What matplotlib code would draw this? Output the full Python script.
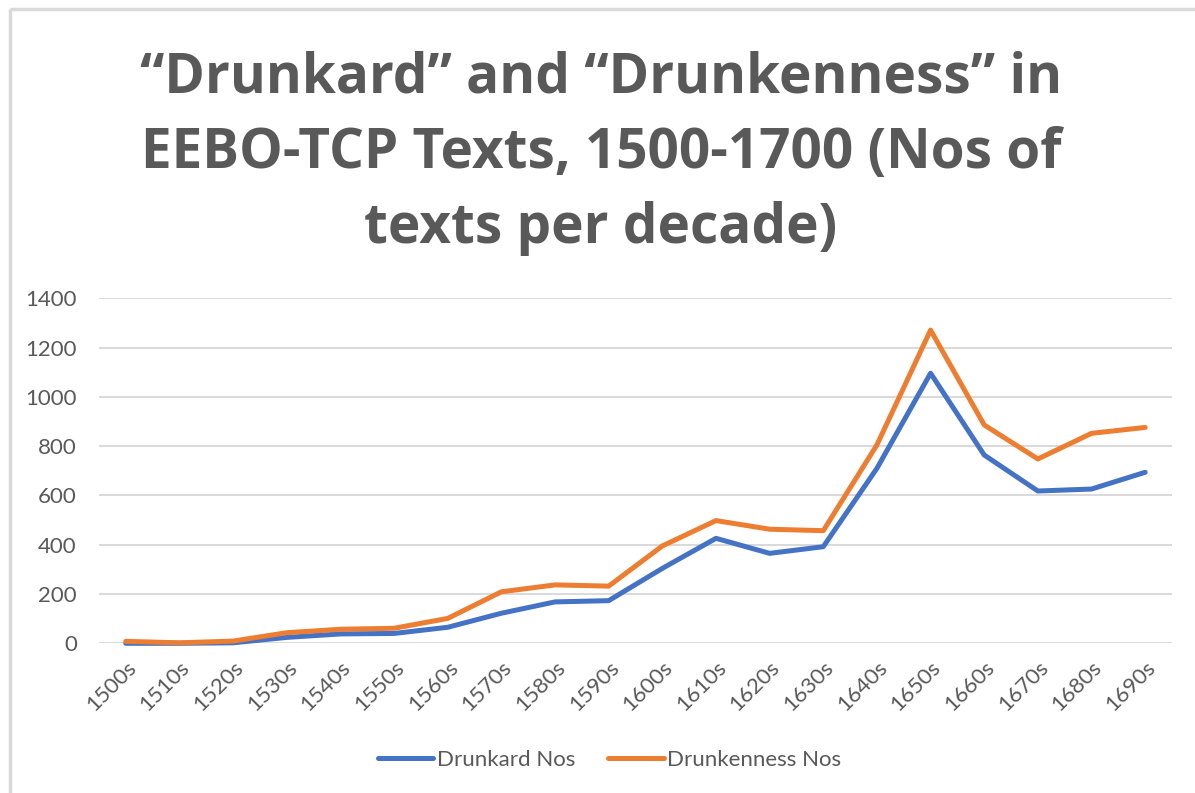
import matplotlib
matplotlib.use('Agg')
import matplotlib.pyplot as plt
from matplotlib.patches import Rectangle

# decades and counts
decades = ['1500s', '1510s', '1520s', '1530s', '1540s', '1550s', '1560s', '1570s',
           '1580s', '1590s', '1600s', '1610s', '1620s', '1630s', '1640s', '1650s',
           '1660s', '1670s', '1680s', '1690s']
drunkard = [0, 0, 2, 24, 38, 40, 65, 122, 168, 173, 304, 426, 365, 392, 710, 1096,
            764, 618, 626, 694]
drunkenness = [8, 2, 9, 43, 57, 61, 101, 209, 237, 232, 395, 498, 463, 457, 805, 1271,
               886, 748, 852, 876]
yticks = [0, 200, 400, 600, 800, 1000, 1200, 1400]

blue = '#4472C4'
orange = '#ED7D31'
grey = '#595959'

plt.rcParams['font.family'] = ['Lato', 'DejaVu Sans']

W, H = 1195, 793
fig = plt.figure(figsize=(W / 100, H / 100), dpi=100)

# frame of the chart area (only top and left edges are visible)
fig.patches.append(Rectangle((10 / W, 1 - 9 / H), 1.2, -1.2, transform=fig.transFigure,
                             fill=False, edgecolor='#D9D9D9', linewidth=2.5))
# cut-off letter from the page above
fig.text(45 / W, 1 + 8 / H, 'g', fontsize=16, color='black', va='baseline', ha='left')

ax = fig.add_axes([99 / W, 1 - 643.3 / H, (1172 - 99) / W, (643.3 - 298.3) / H])
x = list(range(len(decades)))
ax.plot(x, drunkard, color=blue, lw=3.6, label='Drunkard Nos', clip_on=False,
        solid_joinstyle='round', solid_capstyle='round', zorder=3)
ax.plot(x, drunkenness, color=orange, lw=3.6, label='Drunkenness Nos', clip_on=False,
        solid_joinstyle='round', solid_capstyle='round', zorder=3)

ax.set_xlim(-0.5, len(decades) - 0.5)
ax.set_ylim(0, 1400)
ax.set_yticks(yticks)
ax.set_xticks(x)
ax.set_xticklabels(decades, rotation=45, ha='right', rotation_mode='anchor')
ax.tick_params(axis='both', length=0, labelsize=16, labelcolor=grey)
ax.tick_params(axis='y', pad=16)
ax.tick_params(axis='x', pad=10)
for s in ax.spines.values():
    s.set_visible(False)
ax.yaxis.grid(True, color='#D9D9D9', lw=1.4)
ax.set_axisbelow(True)

fig.text(0.503, 1 - 243 / H, '\u201cDrunkard\u201d and \u201cDrunkenness\u201d in\n'
         'EEBO-TCP Texts, 1500-1700 (Nos of\ntexts per decade)',
         ha='center', va='baseline', fontsize=39.5, fontweight='bold', color=grey,
         family=['Open Sans', 'DejaVu Sans'], linespacing=1.48)

fig.legend(loc='center', bbox_to_anchor=(0.51, 1 - 760 / H), ncol=2, frameon=False,
           fontsize=16, labelcolor=grey, handlelength=2.5, handletextpad=0.15,
           columnspacing=1.5)

fig.savefig('out.png', dpi=100)
